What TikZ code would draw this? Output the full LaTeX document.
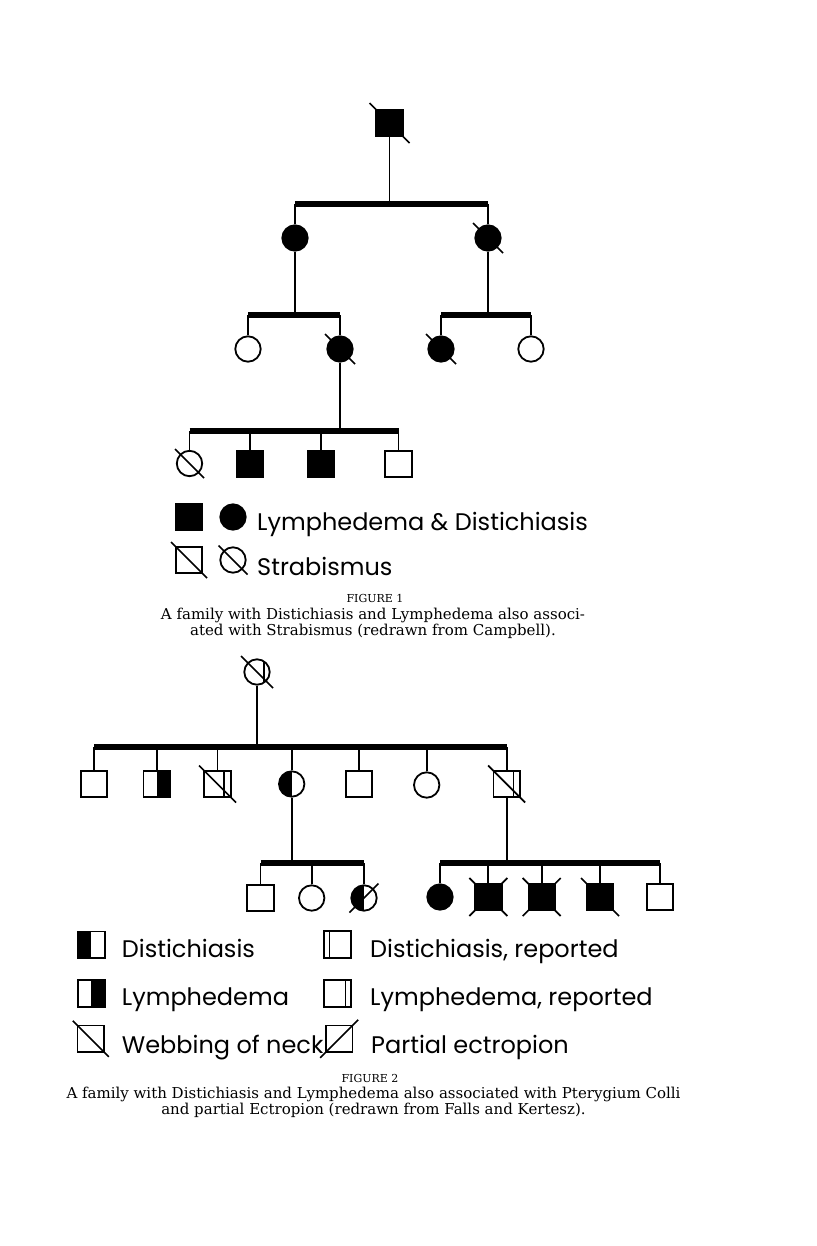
\documentclass[tikz,border=0pt]{standalone}
\usepackage{fontspec}
\newfontfamily\legfont{Poppins}
\newfontfamily\capfont{DejaVu Serif}
\usetikzlibrary{calc}

\begin{document}
\begin{tikzpicture}[x=1pt, y=-1pt,
  ind/.style={draw=black, line width=1.8pt, inner sep=0pt},
  male/.style={ind, rectangle, minimum size=26.6pt},
  female/.style={ind, circle, minimum size=25.4pt},
  aff/.style={fill=black},
  dist/.style={path picture={\fill[black] (path picture bounding box.south west) rectangle (path picture bounding box.north);}},
  lymph/.style={path picture={\fill[black] (path picture bounding box.south) rectangle (path picture bounding box.north east);}},
  distrep/.style={path picture={\draw[line width=1.5pt]
    ($(path picture bounding box.south west)!#1!(path picture bounding box.south east)$) --
    ($(path picture bounding box.north west)!#1!(path picture bounding box.north east)$);}},
  distrep/.default=0.25,
  line/.style={line width=1.8pt},
  bar/.style={line width=5.5pt},
  slash/.style={line width=1.7pt},
  legtext/.style={anchor=base west, inner sep=0pt, font=\legfont\fontsize{24}{28}\selectfont},
  figlabel/.style={font=\capfont\fontsize{11}{13}\selectfont},
  captext/.style={align=center, inner sep=0pt, font=\capfont\fontsize{15}{16.2}\selectfont}
]
\useasboundingbox[fill=white] (0,0) rectangle (816,1246);

% figure 1
\node[male,aff] (p1) at (389.5,123) {};
\node[female,aff] (d1) at (295,238) {};
\node[female,aff] (d2) at (488,238) {};
\node[female] (g1) at (248,349) {};
\node[female,aff] (g2) at (340,349) {};
\node[female,aff] (g3) at (441,349) {};
\node[female] (g4) at (531,349) {};
\node[female] (h1) at (189.5,463.5) {};
\node[male,aff] (h2) at (250,464) {};
\node[male,aff] (h3) at (321,464) {};
\node[male] (h4) at (398.5,464) {};
\coordinate (b1) at (0,204);
\coordinate (b2) at (0,315);
\coordinate (b3) at (0,431);
\draw[bar] (d1 |- b1) -- (d2 |- b1);
\draw[bar] (g1 |- b2) -- (g2 |- b2);
\draw[bar] (g3 |- b2) -- (g4 |- b2);
\draw[bar] (h1 |- b3) -- (h4 |- b3);
\draw[line] (p1) -- (p1 |- b1);
\foreach \c in {d1,d2} \draw[line] (\c) -- (\c |- b1);
\foreach \c in {d1,d2,g1,g2,g3,g4} \draw[line] (\c) -- (\c |- b2);
\foreach \c in {g2,h1,h2,h3,h4} \draw[line] (\c) -- (\c |- b3);

% legend 1
\node[male,aff] (k1) at (189,517) {};
\node[female,aff] (k2) at (233,517) {};
\node[male] (k3) at (189,560) {};
\node[female] (k4) at (233,560) {};
\node[legtext] (k1t) at (257,530) {Lymphedema \& Distichiasis};
\node[legtext] (k3t) at (257,575) {Strabismus};
\node[figlabel] (f1) at (375,598) {FIGURE 1};
\node[captext] (c1) at (373,623) {A family with Distichiasis and Lymphedema also associ-\\ated with Strabismus (redrawn from Campbell).};

% figure 2
\node[female,distrep=0.78] (q0) at (257,672) {};
\node[male] (r1) at (94,784) {};
\node[male,distrep,lymph] (r2) at (156.7,784) {};
\node[male,distrep=0.27,distrep=0.75] (r3) at (217.5,784) {};
\node[female,dist] (r4) at (291.7,784) {};
\node[male] (r5) at (359,784) {};
\node[female] (r6) at (426.7,785) {};
\node[male,distrep=0.27,distrep=0.75] (r7) at (506.7,784) {};
\node[male] (t1) at (260.5,898) {};
\node[female] (t2) at (311.7,898) {};
\node[female,dist] (t3) at (364,898) {};
\node[female,aff] (u1) at (440,897) {};
\node[male,aff] (u2) at (488.3,897) {};
\node[male,aff] (u3) at (541.7,897) {};
\node[male,aff] (u4) at (600,897) {};
\node[male] (u5) at (660,897) {};
\coordinate (b4) at (0,747);
\coordinate (b5) at (0,863);
\draw[bar] (r1 |- b4) -- (r7 |- b4);
\draw[bar] (t1 |- b5) -- (t3 |- b5);
\draw[bar] (u1 |- b5) -- (u5 |- b5);
\draw[line] (q0) -- (q0 |- b4);
\foreach \c in {r1,r2,r3,r4,r5,r6,r7} \draw[line] (\c) -- (\c |- b4);
\foreach \c in {r4,r7,t1,t2,t3,u1,u2,u3,u4,u5} \draw[line] (\c) -- (\c |- b5);

% legend 2
\node[male,dist] (v1) at (91.3,944.7) {};
\node[male,lymph] (v2) at (91.3,993.3) {};
\node[male] (v3) at (90.8,1038.8) {};
\node[male,distrep=0.2] (v4) at (337.5,944.5) {};
\node[male,distrep=0.8] (v5) at (337.5,993.3) {};
\node[male] (v6) at (339.2,1038.8) {};
\node[legtext] (v1t) at (121.7,957.5) {Distichiasis};
\node[legtext] (v2t) at (121.7,1005) {Lymphedema};
\node[legtext] (v3t) at (121.7,1053) {Webbing of neck};
\node[legtext] (v4t) at (370,957.5) {Distichiasis, reported};
\node[legtext] (v5t) at (370,1005) {Lymphedema, reported};
\node[legtext] (v6t) at (371,1053) {Partial ectropion};
\node[figlabel] (f2) at (370,1078) {FIGURE 2};
\node[captext] (c2) at (373.5,1102) {A family with Distichiasis and Lymphedema also associated with Pterygium Colli\\and partial Ectropion (redrawn from Falls and Kertesz).};

% slashes
\foreach \n/\d in {p1/20,d2/15,g2/15,g3/15,h1/14.5,k3/18,k4/14.5,q0/16,r3/18.5,r7/18.5,u2/19,u3/19,u4/19,v3/18}
  \draw[slash] ($(\n)+(-\d,-\d)$) -- ($(\n)+(\d,\d)$);
\foreach \n/\d in {t3/14.5,u2/19,u3/19,v6/19}
  \draw[slash] ($(\n)+(-\d,\d)$) -- ($(\n)+(\d,-\d)$);
\end{tikzpicture}
\end{document}
